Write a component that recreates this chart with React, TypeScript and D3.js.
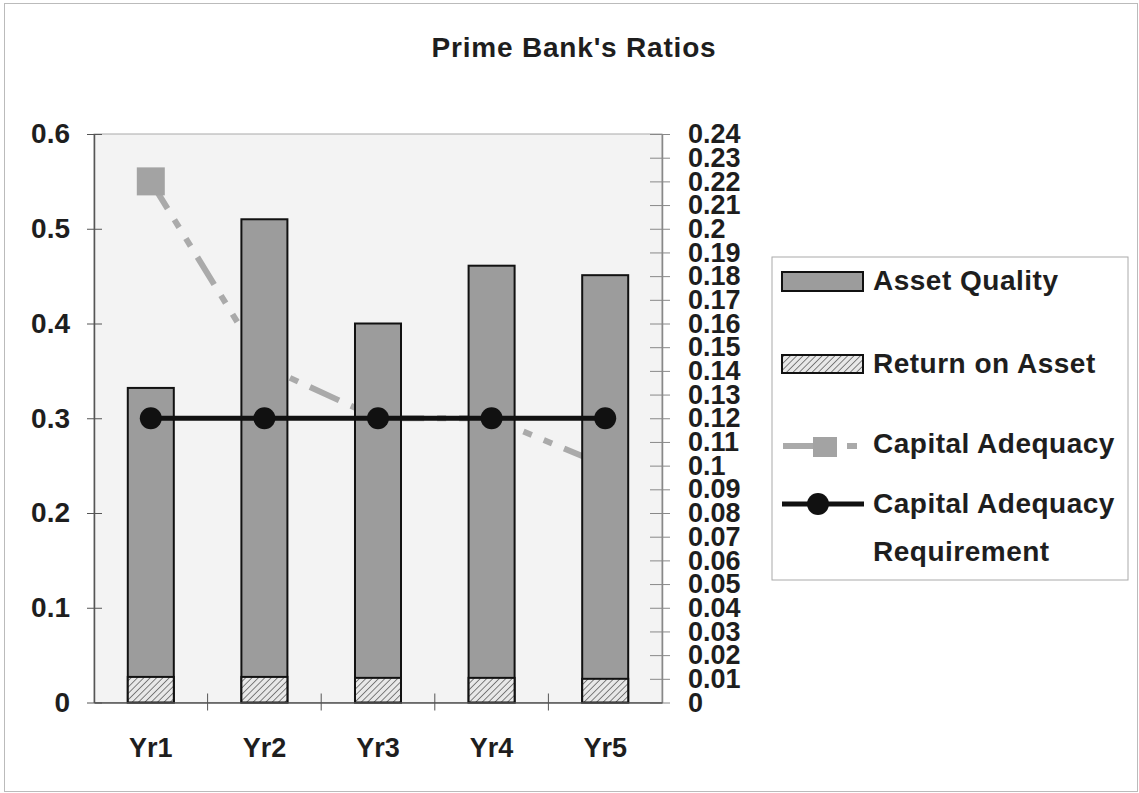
import React, { useEffect, useRef } from 'react';
import * as d3 from 'd3';

// values
const years = ['Yr1', 'Yr2', 'Yr3', 'Yr4', 'Yr5'];
const assetQuality = [0.332, 0.51, 0.4, 0.461, 0.451];
const returnOnAsset = [0.027, 0.027, 0.026, 0.026, 0.025];
const capitalAdequacy = [0.22, 0.142, 0.12, 0.12, 0.1];
const capitalRequirement = [0.12, 0.12, 0.12, 0.12, 0.12];
const leftTicks = [0, 0.1, 0.2, 0.3, 0.4, 0.5, 0.6];
const rightTicks = [
  0, 0.01, 0.02, 0.03, 0.04, 0.05, 0.06, 0.07, 0.08, 0.09, 0.1, 0.11, 0.12,
  0.13, 0.14, 0.15, 0.16, 0.17, 0.18, 0.19, 0.2, 0.21, 0.22, 0.23, 0.24,
];
const legendLabels = ['Asset Quality', 'Return on Asset', 'Capital Adequacy', 'Capital Adequacy', 'Requirement'];

const FONT = "'Liberation Sans', Arial, sans-serif";

const App = () => {
  const svgRef = useRef<SVGSVGElement>(null);

  useEffect(() => {
    document.body.style.margin = '0';
    const W = 1139;
    const H = 793;
    const plot = { left: 94, right: 662, top: 134, bottom: 702.5 };

    const svg = d3.select(svgRef.current).attr('width', W).attr('height', H);
    svg.selectAll('*').remove();

    const defs = svg.append('defs');
    const pat = defs.append('pattern')
      .attr('id', 'hatch')
      .attr('patternUnits', 'userSpaceOnUse')
      .attr('width', 4.5)
      .attr('height', 4.5)
      .attr('patternTransform', 'rotate(45)');
    pat.append('rect').attr('width', 4.5).attr('height', 4.5).attr('fill', '#e8e8e8');
    pat.append('line').attr('x1', 0).attr('y1', 0).attr('x2', 0).attr('y2', 4.5)
      .attr('stroke', '#444').attr('stroke-width', 1.3);

    // outer frame
    svg.append('rect').attr('x', 4.5).attr('y', 3.5).attr('width', W - 6).attr('height', H - 5)
      .attr('fill', '#fff').attr('stroke', '#bbb');

    const x = d3.scaleBand().domain(years).range([plot.left, plot.right]);
    const yL = d3.scaleLinear().domain([0, 0.6]).range([plot.bottom, plot.top]);
    const yR = d3.scaleLinear().domain([0, 0.24]).range([plot.bottom, plot.top]);
    const barW = x.bandwidth() * 0.405;
    const cx = (d: string) => (x(d) as number) + x.bandwidth() / 2;

    // plot area
    svg.append('rect')
      .attr('x', plot.left).attr('y', plot.top)
      .attr('width', plot.right - plot.left).attr('height', plot.bottom - plot.top)
      .attr('fill', '#f3f3f3').attr('stroke', '#aaa');

    // title
    svg.append('text')
      .attr('x', 574).attr('y', 57)
      .attr('text-anchor', 'middle')
      .style('font', `bold 28px ${FONT}`)
      .style('letter-spacing', '0.8px')
      .attr('fill', '#1e1e1e')
      .text("Prime Bank's Ratios");

    // capital adequacy (secondary axis), drawn behind the bars
    const caLine = d3.line<number>().x((d, i) => cx(years[i])).y(d => yR(d));
    svg.append('path')
      .datum(capitalAdequacy)
      .attr('d', caLine)
      .attr('fill', 'none')
      .attr('stroke', '#aaa')
      .attr('stroke-width', 6)
      .attr('stroke-dasharray', '32,13,9,13,9,13');
    svg.append('g').selectAll('rect')
      .data(capitalAdequacy)
      .enter().append('rect')
      .attr('x', (d, i) => cx(years[i]) - 14)
      .attr('y', d => yR(d) - 14)
      .attr('width', 28).attr('height', 28)
      .attr('fill', '#a3a3a3');

    // bars
    svg.append('g').selectAll('rect')
      .data(assetQuality)
      .enter().append('rect')
      .attr('x', (d, i) => cx(years[i]) - barW / 2)
      .attr('y', d => yL(d))
      .attr('width', barW)
      .attr('height', d => yL(0) - yL(d))
      .attr('fill', '#9c9c9c').attr('stroke', '#111').attr('stroke-width', 2);
    svg.append('g').selectAll('rect')
      .data(returnOnAsset)
      .enter().append('rect')
      .attr('x', (d, i) => cx(years[i]) - barW / 2)
      .attr('y', d => yL(d))
      .attr('width', barW)
      .attr('height', d => yL(0) - yL(d))
      .attr('fill', 'url(#hatch)').attr('stroke', '#111').attr('stroke-width', 2);

    // left axis
    const gl = svg.append('g')
      .attr('transform', `translate(${plot.left},0)`)
      .call(d3.axisLeft(yL).tickValues(leftTicks).tickFormat(d => String(d)).tickSize(0).tickPadding(24));
    gl.select('.domain').attr('stroke', '#555').attr('stroke-width', 1.5);
    gl.selectAll('.tick line').attr('x1', -7).attr('x2', 8).attr('stroke', '#555');
    gl.selectAll('.tick text').style('font', `bold 28px ${FONT}`).attr('fill', '#1e1e1e');

    // right axis
    const gr = svg.append('g')
      .attr('transform', `translate(${plot.right},0)`)
      .call(d3.axisRight(yR).tickValues(rightTicks).tickFormat(d => String(+(+d).toFixed(2))).tickSize(0).tickPadding(26));
    gr.select('.domain').attr('stroke', '#888').attr('stroke-width', 1.5);
    gr.selectAll('.tick line').attr('x1', -12).attr('x2', 8).attr('stroke', '#888');
    gr.selectAll('.tick text').style('font', `bold 27px ${FONT}`).attr('fill', '#1e1e1e');

    // bottom axis
    const gb = svg.append('g')
      .attr('transform', `translate(0,${plot.bottom})`)
      .call(d3.axisBottom(x).tickSize(0).tickPadding(35));
    gb.select('.domain').attr('stroke', '#555').attr('stroke-width', 1.5);
    gb.selectAll('.tick text').style('font', `bold 27px ${FONT}`).attr('fill', '#1e1e1e');
    gb.selectAll('.sep')
      .data(years.slice(1))
      .enter().append('line')
      .attr('x1', d => x(d) as number).attr('x2', d => x(d) as number)
      .attr('y1', -9).attr('y2', 8)
      .attr('stroke', '#555');

    // capital adequacy requirement
    const reqLine = d3.line<number>().x((d, i) => cx(years[i])).y(d => yR(d));
    svg.append('path')
      .datum(capitalRequirement)
      .attr('d', reqLine)
      .attr('fill', 'none').attr('stroke', '#111').attr('stroke-width', 5);
    svg.append('g').selectAll('circle')
      .data(capitalRequirement)
      .enter().append('circle')
      .attr('cx', (d, i) => cx(years[i]))
      .attr('cy', d => yR(d))
      .attr('r', 11)
      .attr('fill', '#111');

    // legend
    const lg = svg.append('g');
    lg.append('rect').attr('x', 772).attr('y', 257).attr('width', 356).attr('height', 323)
      .attr('fill', '#fff').attr('stroke', '#aaa');
    lg.append('rect').attr('x', 782).attr('y', 272).attr('width', 81).attr('height', 19)
      .attr('fill', '#9c9c9c').attr('stroke', '#111').attr('stroke-width', 2);
    lg.append('rect').attr('x', 782).attr('y', 355).attr('width', 81).attr('height', 18)
      .attr('fill', 'url(#hatch)').attr('stroke', '#111').attr('stroke-width', 2);
    lg.append('line').attr('x1', 783).attr('x2', 814).attr('y1', 446).attr('y2', 446)
      .attr('stroke', '#aaa').attr('stroke-width', 6);
    lg.append('rect').attr('x', 813).attr('y', 437).attr('width', 24).attr('height', 20)
      .attr('fill', '#a3a3a3');
    lg.append('line').attr('x1', 847).attr('x2', 857).attr('y1', 446).attr('y2', 446)
      .attr('stroke', '#aaa').attr('stroke-width', 6);
    lg.append('line').attr('x1', 782).attr('x2', 864).attr('y1', 504).attr('y2', 504)
      .attr('stroke', '#111').attr('stroke-width', 5);
    lg.append('circle').attr('cx', 818).attr('cy', 504).attr('r', 11).attr('fill', '#111');

    const legendY = [290, 373, 453, 513, 561];
    lg.selectAll('.lt')
      .data(legendLabels)
      .enter().append('text')
      .attr('x', 873)
      .attr('y', (d, i) => legendY[i])
      .style('font', `bold 28px ${FONT}`)
      .style('letter-spacing', '0.5px')
      .attr('fill', '#1e1e1e')
      .text(d => d);
  }, []);

  return <svg ref={svgRef} style={{ display: 'block' }}></svg>;
};

export default App;
